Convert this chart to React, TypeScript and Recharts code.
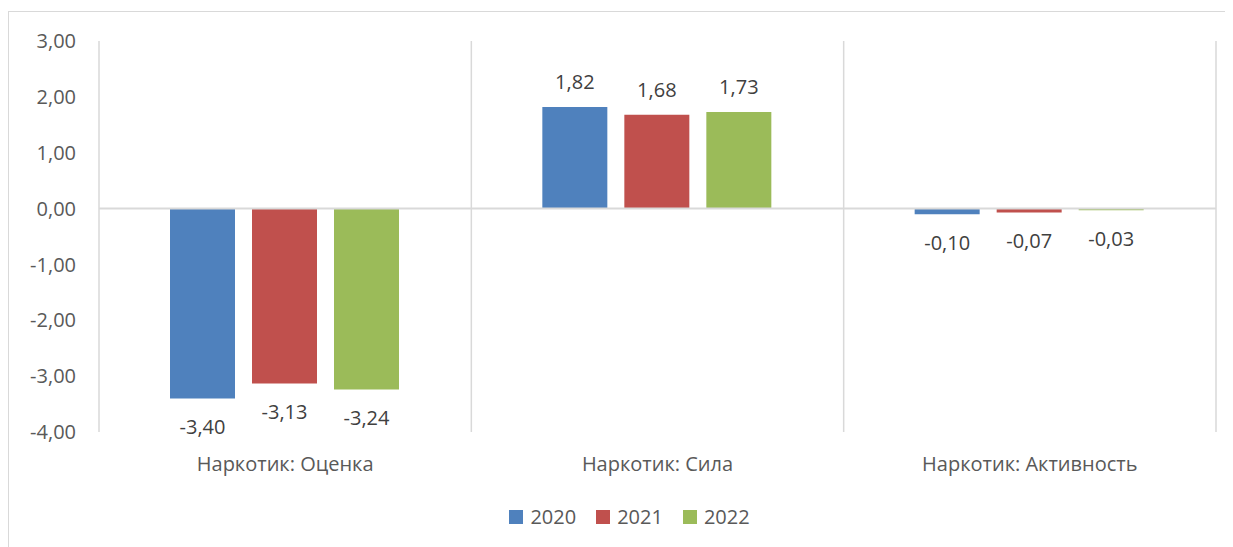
import React from "react";
import {
  BarChart,
  Bar,
  XAxis,
  YAxis,
  CartesianGrid,
  ReferenceLine,
  Legend,
  LabelList,
} from "recharts";

const categories = ["Наркотик: Оценка", "Наркотик: Сила", "Наркотик: Активность"];
const values2020 = [-3.4, 1.82, -0.1];
const values2021 = [-3.13, 1.68, -0.07];
const values2022 = [-3.24, 1.73, -0.03];
const yTicks = [-4, -3, -2, -1, 0, 1, 2, 3];

const seriesList = [
  { key: "y2020", name: "2020", color: "#4F81BD" },
  { key: "y2021", name: "2021", color: "#C0504D" },
  { key: "y2022", name: "2022", color: "#9BBB59" },
];

const data = categories.map((name, i) => ({
  name,
  y2020: values2020[i],
  y2021: values2021[i],
  y2022: values2022[i],
}));

const FONT = "'Open Sans', 'Noto Sans', sans-serif";
const fmt = (v: number) => v.toFixed(2).replace(".", ",");

function BarValueLabel(props: any) {
  const { x, y, width, height, value } = props;
  const top = Math.min(y, y + height);
  const bottom = Math.max(y, y + height);
  const cx = x + width / 2;
  const ty = value >= 0 ? top - 18 : bottom + 19;
  return (
    <text
      x={cx}
      y={ty}
      textAnchor="middle"
      dominantBaseline={value >= 0 ? "auto" : "hanging"}
      fill="#404040"
      fontSize={20}
      fontFamily={FONT}
    >
      {fmt(value)}
    </text>
  );
}

function LegendContent() {
  return (
    <div
      style={{
        display: "flex",
        justifyContent: "center",
        paddingLeft: 54,
        paddingTop: 21,
        fontFamily: FONT,
        fontSize: 20,
        color: "#595959",
      }}
    >
      {seriesList.map((s) => (
        <div key={s.key} style={{ display: "flex", alignItems: "center", marginRight: 20 }}>
          <div style={{ width: 14, height: 14, backgroundColor: s.color, marginRight: 7 }} />
          <span>{s.name}</span>
        </div>
      ))}
    </div>
  );
}

export default function App() {
  return (
    <div
      style={{
        marginTop: 3,
        width: 1224,
        height: 535,
        borderTop: "1px solid #d9d9d9",
        borderLeft: "1px solid #d9d9d9",
        background: "#fff",
      }}
    >
      <BarChart
        width={1224}
        height={535}
        data={data}
        margin={{ top: 29, right: 17, left: 0, bottom: 0 }}
        barCategoryGap={71}
        barGap={17}
      >
        <CartesianGrid
          horizontal={false}
          stroke="#d9d9d9"
          strokeWidth={1.5}
          verticalCoordinatesGenerator={({ offset }: any) =>
            categories
              .map((_, i) => offset.left + (i * offset.width) / categories.length)
              .concat(offset.left + offset.width)
          }
        />
        <XAxis
          dataKey="name"
          axisLine={false}
          tickLine={false}
          height={50}
          tickMargin={19}
          tick={{ fill: "#595959", fontSize: 20, fontFamily: FONT }}
        />
        <YAxis
          domain={[-4, 3]}
          ticks={yTicks}
          interval={0}
          width={90}
          axisLine={false}
          tickLine={false}
          tickMargin={17}
          tickFormatter={fmt}
          tick={{ fill: "#595959", fontSize: 20, fontFamily: FONT }}
        />
        <ReferenceLine y={0} stroke="#d9d9d9" strokeWidth={2} />
        <Legend verticalAlign="bottom" height={65} content={<LegendContent />} />
        {seriesList.map((s) => (
          <Bar key={s.key} dataKey={s.key} name={s.name} fill={s.color} isAnimationActive={false}>
            <LabelList dataKey={s.key} content={<BarValueLabel />} />
          </Bar>
        ))}
      </BarChart>
    </div>
  );
}
